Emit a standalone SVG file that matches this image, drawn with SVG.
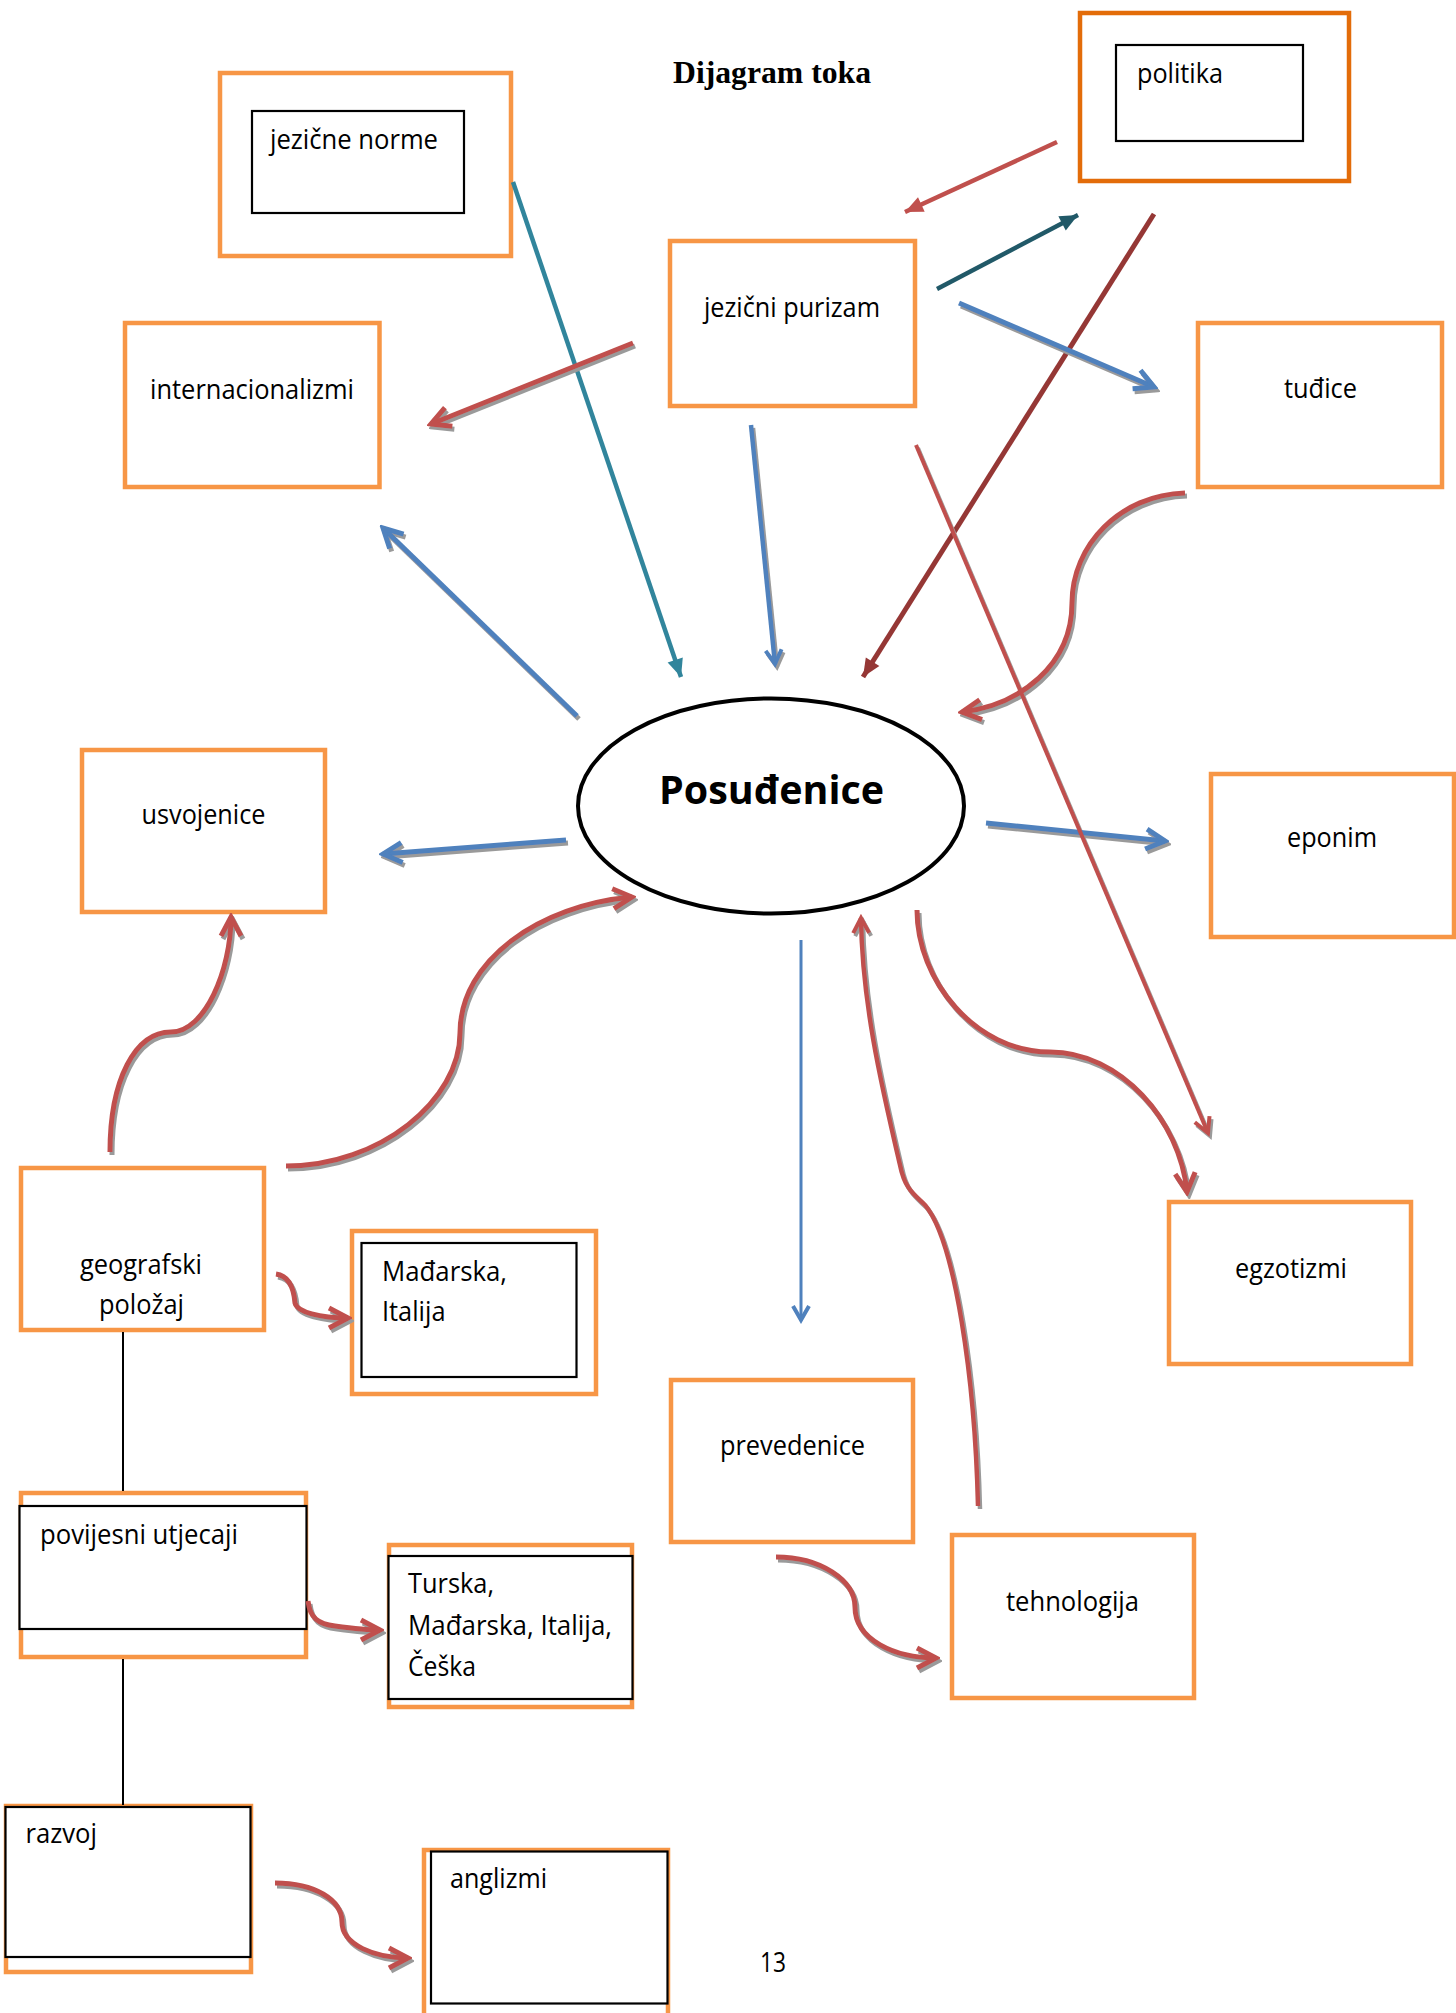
<svg xmlns="http://www.w3.org/2000/svg" width="1456" height="2013" viewBox="0 0 1456 2013">
<style>
.ob{fill:#fff;stroke:#F79646;stroke-width:4.5}
.ob2{fill:#fff;stroke:#E36C09;stroke-width:4.5}
.bb{fill:#fff;stroke:#000;stroke-width:2.2}
.t{font-family:"Open Sans","Liberation Sans",sans-serif;font-size:28px;fill:#000}
.c{fill:none}
.red{stroke:#C0504D}
.blue{stroke:#4F81BD}
</style>
<defs>
<filter id="sh" filterUnits="userSpaceOnUse" x="0" y="0" width="1456" height="2013">
<feOffset in="SourceAlpha" dx="1.5" dy="2.5" result="o"/>
<feFlood flood-color="#9a9a9a"/>
<feComposite in2="o" operator="in"/>
<feMerge><feMergeNode/><feMergeNode in="SourceGraphic"/></feMerge>
</filter>
<marker id="cr" markerUnits="userSpaceOnUse" viewBox="-24 -14 28 28" refX="0" refY="0" markerWidth="28" markerHeight="28" orient="auto">
<path d="M-19,-10 L0,0 L-19,10" fill="none" stroke="#C0504D" stroke-width="5"/>
</marker>
<marker id="crs" markerUnits="userSpaceOnUse" viewBox="-20 -12 24 24" refX="0" refY="0" markerWidth="24" markerHeight="24" orient="auto">
<path d="M-15,-8 L0,0 L-15,8" fill="none" stroke="#C0504D" stroke-width="4"/>
</marker>
<marker id="cb" markerUnits="userSpaceOnUse" viewBox="-24 -14 28 28" refX="0" refY="0" markerWidth="28" markerHeight="28" orient="auto">
<path d="M-19,-10 L0,0 L-19,10" fill="none" stroke="#4F81BD" stroke-width="5"/>
</marker>
<marker id="cbs" markerUnits="userSpaceOnUse" viewBox="-20 -12 24 24" refX="0" refY="0" markerWidth="24" markerHeight="24" orient="auto">
<path d="M-14,-8 L0,0 L-14,8" fill="none" stroke="#4F81BD" stroke-width="4"/>
</marker>
<marker id="tr" markerUnits="userSpaceOnUse" viewBox="-20 -10 22 20" refX="0" refY="0" markerWidth="22" markerHeight="20" orient="auto">
<path d="M-18,-8 L0,0 L-18,8 Z" fill="#C0504D"/>
</marker>
<marker id="tdt" markerUnits="userSpaceOnUse" viewBox="-20 -10 22 20" refX="0" refY="0" markerWidth="22" markerHeight="20" orient="auto">
<path d="M-18,-8 L0,0 L-18,8 Z" fill="#215968"/>
</marker>
<marker id="tdr" markerUnits="userSpaceOnUse" viewBox="-20 -10 22 20" refX="0" refY="0" markerWidth="22" markerHeight="20" orient="auto">
<path d="M-18,-8 L0,0 L-18,8 Z" fill="#953735"/>
</marker>
<marker id="tt" markerUnits="userSpaceOnUse" viewBox="-20 -10 22 20" refX="0" refY="0" markerWidth="22" markerHeight="20" orient="auto">
<path d="M-18,-8 L0,0 L-18,8 Z" fill="#31859C"/>
</marker>
</defs>
<rect width="1456" height="2013" fill="#fff"/>

<text x="673" y="83" font-family="'Liberation Serif',serif" font-weight="bold" font-size="32" textLength="198" lengthAdjust="spacingAndGlyphs">Dijagram toka</text>

<g id="jezicne-norme">
<rect class="ob" x="220" y="73" width="291" height="183"/>
<rect class="bb" x="252" y="111" width="212" height="102"/>
<text class="t" x="270" y="149" textLength="168" lengthAdjust="spacingAndGlyphs">jezične norme</text>
</g>
<g id="politika">
<rect class="ob2" x="1080" y="13" width="269" height="168"/>
<rect class="bb" x="1116" y="45" width="187" height="96"/>
<text class="t" x="1137" y="83" textLength="86" lengthAdjust="spacingAndGlyphs">politika</text>
</g>
<g id="jezicni-purizam">
<rect class="ob" x="670" y="241" width="245" height="165"/>
<text class="t" x="704" y="317" textLength="176" lengthAdjust="spacingAndGlyphs">jezični purizam</text>
</g>
<g id="internacionalizmi">
<rect class="ob" x="125" y="323" width="254.5" height="164"/>
<text class="t" x="150" y="399" textLength="204" lengthAdjust="spacingAndGlyphs">internacionalizmi</text>
</g>
<g id="tudice">
<rect class="ob" x="1198" y="323" width="244" height="164"/>
<text class="t" x="1284" y="398" textLength="73" lengthAdjust="spacingAndGlyphs">tuđice</text>
</g>
<g id="usvojenice">
<rect class="ob" x="82" y="750" width="243" height="162"/>
<text class="t" x="141.5" y="824" textLength="124" lengthAdjust="spacingAndGlyphs">usvojenice</text>
</g>
<g id="posudjenice">
<ellipse cx="771" cy="806" rx="193" ry="107.5" fill="#fff" stroke="#000" stroke-width="4"/>
<text x="659" y="804" font-family="'Open Sans','Liberation Sans',sans-serif" font-weight="bold" font-size="40" textLength="225" lengthAdjust="spacingAndGlyphs">Posuđenice</text>
</g>
<g id="eponim">
<rect class="ob" x="1211" y="774" width="243" height="163"/>
<text class="t" x="1287" y="847" textLength="90" lengthAdjust="spacingAndGlyphs">eponim</text>
</g>
<g id="egzotizmi">
<rect class="ob" x="1169" y="1202" width="242" height="162"/>
<text class="t" x="1235" y="1278" textLength="112" lengthAdjust="spacingAndGlyphs">egzotizmi</text>
</g>
<g id="geografski-polozaj">
<rect class="ob" x="21" y="1168" width="243" height="162"/>
<text class="t" x="80" y="1274" textLength="122" lengthAdjust="spacingAndGlyphs">geografski</text>
<text class="t" x="99" y="1314" textLength="85" lengthAdjust="spacingAndGlyphs">položaj</text>
</g>
<g id="madjarska-italija">
<rect class="ob" x="352" y="1231" width="244" height="163"/>
<rect class="bb" x="361.5" y="1243" width="215" height="134"/>
<text class="t" x="382" y="1281" textLength="125" lengthAdjust="spacingAndGlyphs">Mađarska,</text>
<text class="t" x="382" y="1321" textLength="63.5" lengthAdjust="spacingAndGlyphs">Italija</text>
</g>
<g id="prevedenice">
<rect class="ob" x="671" y="1380" width="242" height="162"/>
<text class="t" x="720" y="1455" textLength="145" lengthAdjust="spacingAndGlyphs">prevedenice</text>
</g>
<g id="tehnologija">
<rect class="ob" x="952" y="1535" width="242" height="163"/>
<text class="t" x="1006" y="1611" textLength="133" lengthAdjust="spacingAndGlyphs">tehnologija</text>
</g>
<g id="povijesni-utjecaji">
<rect class="ob" x="21" y="1493" width="285" height="164"/>
<rect class="bb" x="19.5" y="1506" width="287" height="123"/>
<text class="t" x="40" y="1544" textLength="198" lengthAdjust="spacingAndGlyphs">povijesni utjecaji</text>
</g>
<g id="turska">
<rect class="ob" x="389" y="1545" width="243" height="162"/>
<rect class="bb" x="388.5" y="1556" width="244" height="143"/>
<text class="t" x="408" y="1593" textLength="86" lengthAdjust="spacingAndGlyphs">Turska,</text>
<text class="t" x="408" y="1635" textLength="204" lengthAdjust="spacingAndGlyphs">Mađarska, Italija,</text>
<text class="t" x="408" y="1676" textLength="68" lengthAdjust="spacingAndGlyphs">Češka</text>
</g>
<g id="razvoj">
<rect class="ob" x="6" y="1806" width="245" height="166"/>
<rect class="bb" x="5.5" y="1807" width="245" height="150"/>
<text class="t" x="25.5" y="1843" textLength="71.5" lengthAdjust="spacingAndGlyphs">razvoj</text>
</g>
<g id="anglizmi">
<rect class="ob" x="424" y="1850" width="244" height="175"/>
<rect class="bb" x="431" y="1851.5" width="236.5" height="152"/>
<text class="t" x="450" y="1888" textLength="97" lengthAdjust="spacingAndGlyphs">anglizmi</text>
</g>
<text class="t" x="760" y="1972" textLength="26" lengthAdjust="spacingAndGlyphs">13</text>

<g id="connectors">
<line x1="123" y1="1332" x2="123" y2="1491" stroke="#000" stroke-width="2"/>
<line x1="123" y1="1659" x2="123" y2="1805" stroke="#000" stroke-width="2"/>
<path class="c" d="M1057,142 L905,212" stroke="#C0504D" stroke-width="4.5" marker-end="url(#tr)"/>
<path class="c" d="M937,289 L1078,215" stroke="#215968" stroke-width="4.5" marker-end="url(#tdt)"/>
<path class="c" d="M1154,214 L863,677" stroke="#953735" stroke-width="5" marker-end="url(#tdr)"/>
<path class="c" d="M513,182 L681,677" stroke="#31859C" stroke-width="4.5" marker-end="url(#tt)"/>
<g filter="url(#sh)">
<path class="c blue" d="M959,303 L1154,387" stroke-width="5" marker-end="url(#cb)"/>
<path class="c red" d="M633,343 L431,424" stroke-width="5" marker-end="url(#cr)"/>
<path class="c blue" d="M751,425 L775,664" stroke-width="4.5" marker-end="url(#cbs)"/>
<path class="c blue" d="M577,716 L383,528" stroke-width="5" marker-end="url(#cb)"/>
<path class="c blue" d="M566,840 L383,854" stroke-width="5" marker-end="url(#cb)"/>
<path class="c blue" d="M986,823 L1165,841" stroke-width="5" marker-end="url(#cb)"/>
<path class="c red" d="M916,445 L1208,1133" stroke-width="4" marker-end="url(#crs)"/>
<path class="c red" d="M1185,493 C1120,495 1072,545 1072,603 C1072,665 1020,705 962,712" stroke-width="5" marker-end="url(#cr)"/>
<path class="c red" d="M978,1506 C975,1380 955,1240 925,1205 C915,1195 905,1190 900,1165 C880,1080 862,1000 861,918" stroke-width="4.5" marker-end="url(#crs)"/>
<path class="c red" d="M917,910 C917,980 975,1052 1050,1052 C1120,1052 1180,1120 1187,1192" stroke-width="5" marker-end="url(#cr)"/>
<path class="c red" d="M110,1152 C110,1080 135,1032 171,1032 C205,1032 231,970 231,917" stroke-width="5" marker-end="url(#cr)"/>
<path class="c red" d="M286,1166 C380,1166 460,1100 460,1033 C460,960 540,905 632,897" stroke-width="5" marker-end="url(#cr)"/>
<path class="c red" d="M276,1274 C290,1276 294,1290 295,1303 C297,1312 320,1318 348,1318" stroke-width="5" marker-end="url(#cr)"/>
<path class="c red" d="M308,1601 C310,1618 318,1624 335,1626 C350,1628 365,1630 380,1630" stroke-width="5" marker-end="url(#cr)"/>
<path class="c red" d="M776,1557 C820,1557 855,1580 855,1607 C855,1640 895,1658 936,1658" stroke-width="5" marker-end="url(#cr)"/>
<path class="c red" d="M275,1883 C315,1883 342,1900 342,1922 C342,1945 375,1958 408,1958" stroke-width="5" marker-end="url(#cr)"/>
</g>
<path class="c blue" d="M801,940 L801,1320" stroke-width="3" marker-end="url(#cbs)"/>
</g>
</svg>
